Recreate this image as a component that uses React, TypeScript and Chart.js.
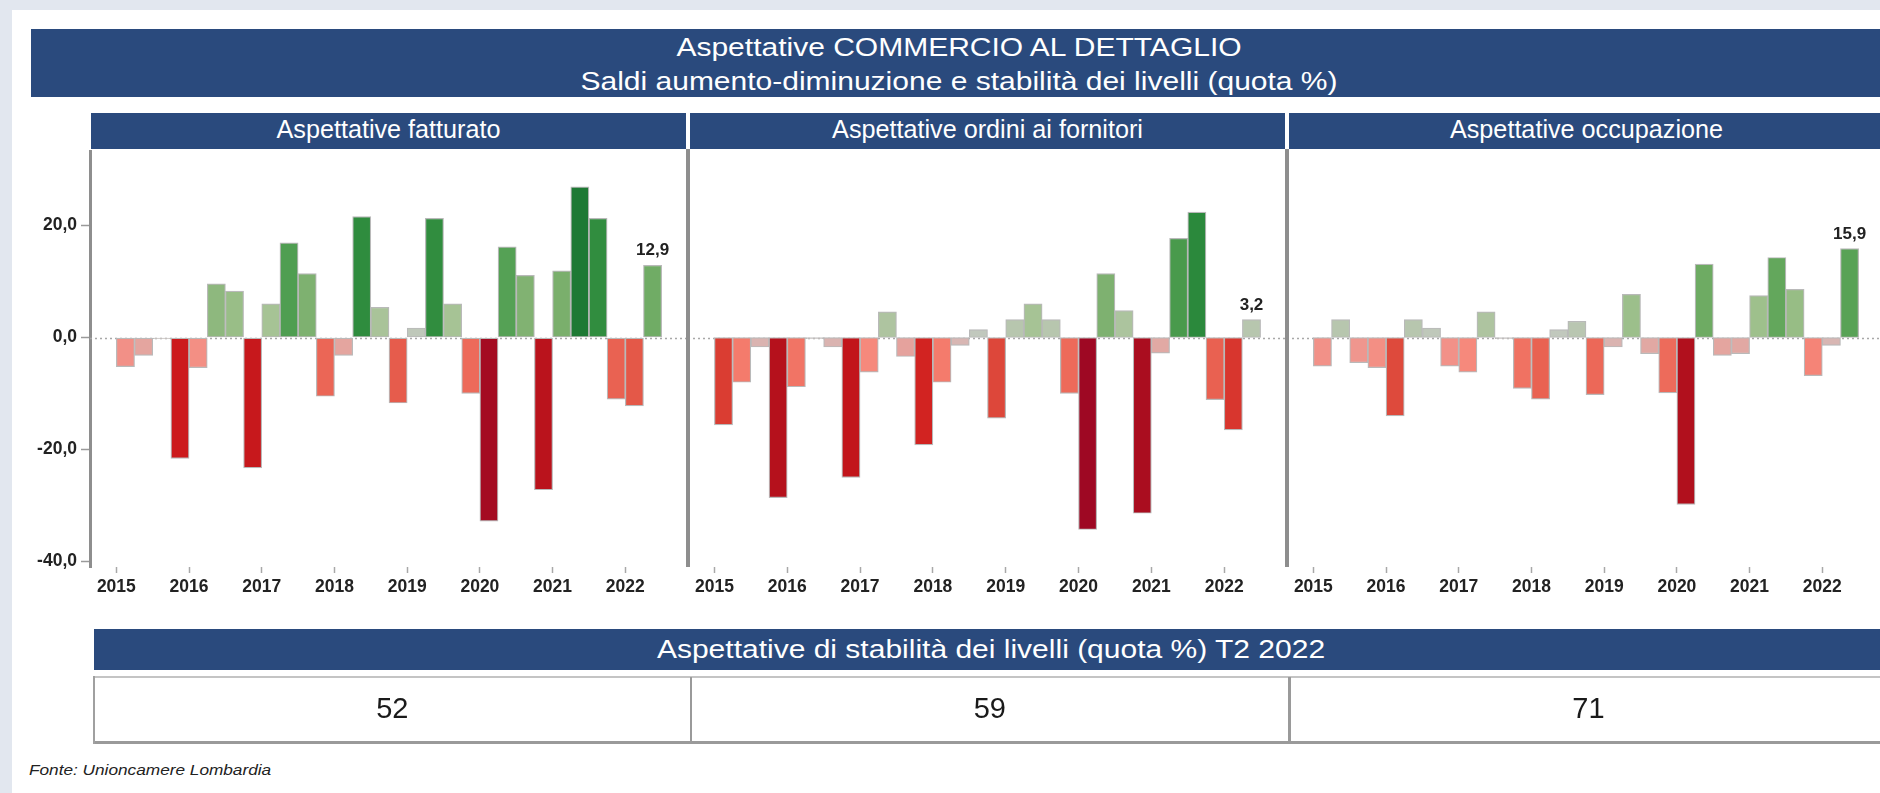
import React, { useEffect, useRef } from 'react';
import { Chart, registerables } from 'chart.js';

Chart.register(...registerables);

// ---------------- DATA ----------------
const YEARS = ['2015', '2016', '2017', '2018', '2019', '2020', '2021', '2022'];
const PANEL_TITLES = ['Aspettative fatturato', 'Aspettative ordini ai fornitori', 'Aspettative occupazione'];
const FATTURATO = [-5.2, -3.2, -0.2, -21.6, -5.4, 9.6, 8.3, -23.3, 6.0, 16.9, 11.4, -10.5, -3.2, 21.6, 5.4, -11.7, 1.7, 21.3, 6.0, -10.0, -32.8, 16.2, 11.1, -27.2, 11.9, 26.9, 21.3, -11.0, -12.2, 12.9];
const ORDINI = [-15.6, -8.0, -1.7, -28.6, -8.8, -0.2, -1.7, -25.0, -6.2, 4.6, -3.4, -19.2, -8.0, -1.4, 1.4, -14.4, 3.2, 6.0, 3.2, -10.0, -34.3, 11.4, 4.8, -31.4, -2.8, 17.7, 22.4, -11.1, -16.5, 3.2];
const OCCUPAZIONE = [-5.1, 3.2, -4.5, -5.4, -14.0, 3.2, 1.7, -5.1, -6.2, 4.6, -0.2, -9.1, -11.0, 1.4, 2.9, -10.2, -1.7, 7.7, -2.9, -9.9, -29.8, 13.1, -3.2, -2.9, 7.5, 14.3, 8.6, -6.8, -1.4, 15.9];
const Y_TICKS = [-40, -20, 0, 20];
const STABILITY_TITLE = 'Aspettative di stabilità dei livelli (quota %) T2 2022';
const STABILITA = [52, 59, 71];
const TITLE_1 = 'Aspettative COMMERCIO AL DETTAGLIO';
const TITLE_2 = 'Saldi aumento-diminuzione e stabilità dei livelli (quota %)';
const SOURCE = 'Fonte: Unioncamere Lombardia';

// ---------------- STYLE ----------------
const FONT = '"Liberation Sans", Arial, sans-serif';
const BLUE = '#2a4a7d';
const COLOR_STOPS: [number, string][] = [
  [-35, '#9b0724'], [-30, '#b0101d'], [-25, '#c2151b'], [-20, '#d01d1d'], [-16, '#d93a30'],
  [-14, '#de4a3c'], [-12, '#e55a49'], [-10, '#ed6a5a'], [-8, '#f47b6c'], [-6, '#f68a7e'],
  [-4.5, '#ef968e'], [-3, '#e2a7a2'], [-1.5, '#d9b5b2'], [0, '#c9c9c6'], [1.5, '#c0c8bc'],
  [3, '#b8c6b0'], [5, '#abc49c'], [6.5, '#a3c292'], [8.5, '#98bd86'], [10, '#8bb67b'],
  [12, '#79af6b'], [14, '#65a85d'], [16, '#57a256'], [18, '#46994a'], [22, '#2c8a3d'], [27, '#1e7934'],
];

function hexToRgb(h: string) {
  const n = parseInt(h.slice(1), 16);
  return [(n >> 16) & 255, (n >> 8) & 255, n & 255];
}
function barColor(v: number): string {
  const s = COLOR_STOPS;
  if (v <= s[0][0]) return s[0][1];
  if (v >= s[s.length - 1][0]) return s[s.length - 1][1];
  for (let i = 0; i < s.length - 1; i++) {
    const [a, ca] = s[i];
    const [b, cb] = s[i + 1];
    if (v >= a && v <= b) {
      const t = (v - a) / (b - a);
      const A = hexToRgb(ca), B = hexToRgb(cb);
      const c = A.map((x, k) => Math.round(x + (B[k] - x) * t));
      return `rgb(${c[0]},${c[1]},${c[2]})`;
    }
  }
  return s[0][1];
}
const fmt = (v: number) => v.toFixed(1).replace('.', ',');

const zeroLinePlugin = {
  id: 'zeroLine',
  beforeDatasetsDraw(chart: any) {
    const { ctx, chartArea } = chart;
    const y = Math.round(chart.scales.y.getPixelForValue(0)) + 0.5;
    ctx.save();
    ctx.strokeStyle = '#a8a8a8';
    ctx.lineWidth = 1.5;
    ctx.setLineDash([2, 3]);
    ctx.beginPath();
    ctx.moveTo(chartArea.left, y);
    ctx.lineTo(chartArea.right, y);
    ctx.stroke();
    ctx.restore();
  },
};

const lastLabelPlugin = {
  id: 'lastLabel',
  afterDatasetsDraw(chart: any) {
    const { ctx } = chart;
    const meta = chart.getDatasetMeta(0);
    const el = meta.data[meta.data.length - 1];
    const vals = chart.data.datasets[0].data;
    const v = vals[vals.length - 1].y;
    ctx.save();
    ctx.font = `bold 17px ${FONT}`;
    ctx.fillStyle = '#222';
    ctx.textAlign = 'center';
    ctx.textBaseline = 'alphabetic';
    ctx.fillText(fmt(v), el.x, Math.min(el.y, el.base) - 10);
    ctx.restore();
  },
};

function makeChart(canvas: HTMLCanvasElement, values: number[], showY: boolean) {
  return new Chart(canvas, {
    type: 'bar',
    data: {
      datasets: [
        {
          data: values.map((v, i) => ({ x: i + 0.5, y: v })),
          backgroundColor: values.map(barColor),
          borderColor: '#b9b9b9',
          borderWidth: 1.2,
          borderSkipped: false,
          barPercentage: 1,
          categoryPercentage: 1,
        } as any,
      ],
    },
    options: {
      animation: false,
      responsive: false,
      devicePixelRatio: 1,
      layout: { padding: 0, autoPadding: false } as any,
      plugins: { legend: { display: false }, tooltip: { enabled: false }, title: { display: false } },
      scales: {
        x: {
          type: 'linear',
          min: -1.45,
          max: 31.45,
          offset: false,
          afterBuildTicks: (s: any) => {
            s.ticks = YEARS.map((_, k) => ({ value: k * 4 }));
          },
          afterFit: (s: any) => {
            s.height = 40;
            s.paddingLeft = 0;
            s.paddingRight = 0;
          },
          ticks: {
            autoSkip: false,
            maxRotation: 0,
            padding: 4,
            color: '#222',
            font: { family: FONT, size: 17.5, weight: 'bold' },
            callback: (v: any) => YEARS[Math.round(Number(v) / 4)] ?? '',
          },
          grid: {
            display: true,
            offset: false,
            drawOnChartArea: false,
            drawTicks: true,
            tickLength: 6,
            tickColor: '#a8a8a8',
            tickWidth: 1.5,
          },
          border: { display: false },
        },
        y: {
          display: showY,
          min: -41,
          max: 33.5,
          afterBuildTicks: (s: any) => {
            s.ticks = Y_TICKS.map((v) => ({ value: v }));
          },
          afterFit: (s: any) => {
            s.width = showY ? 70 : 0;
            s.paddingTop = 0;
            s.paddingBottom = 0;
          },
          ticks: {
            padding: 4,
            color: '#222',
            font: { family: FONT, size: 17.5, weight: 'bold' },
            callback: (v: any) => fmt(Number(v)),
          },
          grid: {
            drawOnChartArea: false,
            drawTicks: true,
            tickLength: 9,
            tickColor: '#9a9a9a',
            tickWidth: 1.5,
          },
          border: { display: true, color: '#8e8e8e', width: 3 },
        },
      },
    } as any,
    plugins: [zeroLinePlugin, lastLabelPlugin],
  });
}

function Panel({ values, showY, left, width }: { values: number[]; showY: boolean; left: number; width: number }) {
  const ref = useRef<HTMLCanvasElement>(null);
  useEffect(() => {
    const c = makeChart(ref.current!, values, showY);
    return () => c.destroy();
  }, [values, showY]);
  return (
    <canvas
      ref={ref}
      width={width}
      height={457}
      style={{ position: 'absolute', left, top: 150, width, height: 457 }}
    />
  );
}

const abs = (s: React.CSSProperties): React.CSSProperties => ({ position: 'absolute', ...s });

export default function App() {
  useEffect(() => {
    document.body.style.margin = '0';
  }, []);
  const headers = [
    { left: 91, width: 595 },
    { left: 690, width: 595 },
    { left: 1289, width: 595 },
  ];
  const cells = [
    { left: 94, right: 690.7 },
    { left: 690.7, right: 1289 },
    { left: 1289, right: 1888 },
  ];
  const stretched = (left: number, top: number, size: number, lh: number, sx: number, text: string, extra: React.CSSProperties = {}) => (
    <div
      style={abs({
        left,
        top,
        fontSize: size,
        lineHeight: lh + 'px',
        whiteSpace: 'nowrap',
        transform: `translateX(-50%) scaleX(${sx})`,
        ...extra,
      })}
    >
      {text}
    </div>
  );
  return (
    <div style={abs({ left: 0, top: 0, width: 1880, height: 793, overflow: 'hidden', background: '#e2e7ef', fontFamily: FONT })}>
      <div style={abs({ left: 12, top: 10, width: 1900, height: 800, background: '#ffffff' })} />
      {/* Title */}
      <div style={abs({ left: 31, top: 29, width: 1900, height: 68, background: BLUE })} />
      {stretched(959, 31, 25, 32, 1.2, TITLE_1, { color: '#fff' })}
      {stretched(959, 65, 25, 32, 1.2, TITLE_2, { color: '#fff' })}
      {/* Panel headers */}
      {headers.map((h, i) => (
        <div
          key={i}
          style={abs({
            left: h.left,
            top: 113,
            width: h.width,
            height: 36,
            background: BLUE,
            color: '#fff',
            fontSize: 25.2,
            lineHeight: '33px',
            textAlign: 'center',
            whiteSpace: 'nowrap',
          })}
        >
          {PANEL_TITLES[i]}
        </div>
      ))}
      {/* Charts */}
      <Panel values={FATTURATO} showY={true} left={20} width={668} />
      <Panel values={ORDINI} showY={false} left={688} width={599} />
      <Panel values={OCCUPAZIONE} showY={false} left={1287} width={598} />
      {/* separators */}
      <div style={abs({ left: 685.8, top: 149, width: 4.5, height: 418, background: '#8e8e8e' })} />
      <div style={abs({ left: 1284.5, top: 149, width: 4.5, height: 418, background: '#8e8e8e' })} />
      {/* Stability table */}
      <div style={abs({ left: 94, top: 629, width: 1900, height: 41, background: BLUE })} />
      {stretched(991, 629, 25, 41, 1.2, STABILITY_TITLE, { color: '#fff' })}
      <div style={abs({ left: 94, top: 676, width: 1900, height: 2, background: '#c4c4c4' })} />
      <div style={abs({ left: 94, top: 741, width: 1900, height: 3, background: '#9a9a9a' })} />
      <div style={abs({ left: 93, top: 676, width: 2, height: 68, background: '#a0a0a0' })} />
      <div style={abs({ left: 689.5, top: 677, width: 2.5, height: 66, background: '#9a9a9a' })} />
      <div style={abs({ left: 1288, top: 677, width: 2.5, height: 66, background: '#9a9a9a' })} />
      {cells.map((c, i) => (
        <div
          key={i}
          style={abs({
            left: c.left,
            top: 675,
            width: c.right - c.left,
            height: 67,
            lineHeight: '67px',
            textAlign: 'center',
            fontSize: 29,
            color: '#1a1a1a',
          })}
        >
          {STABILITA[i]}
        </div>
      ))}
      {/* Source */}
      <div
        style={abs({
          left: 29,
          top: 762,
          fontSize: 14,
          lineHeight: '16px',
          fontStyle: 'italic',
          color: '#222',
          whiteSpace: 'nowrap',
          transform: 'scaleX(1.23)',
          transformOrigin: 'left center',
        })}
      >
        {SOURCE}
      </div>
    </div>
  );
}
